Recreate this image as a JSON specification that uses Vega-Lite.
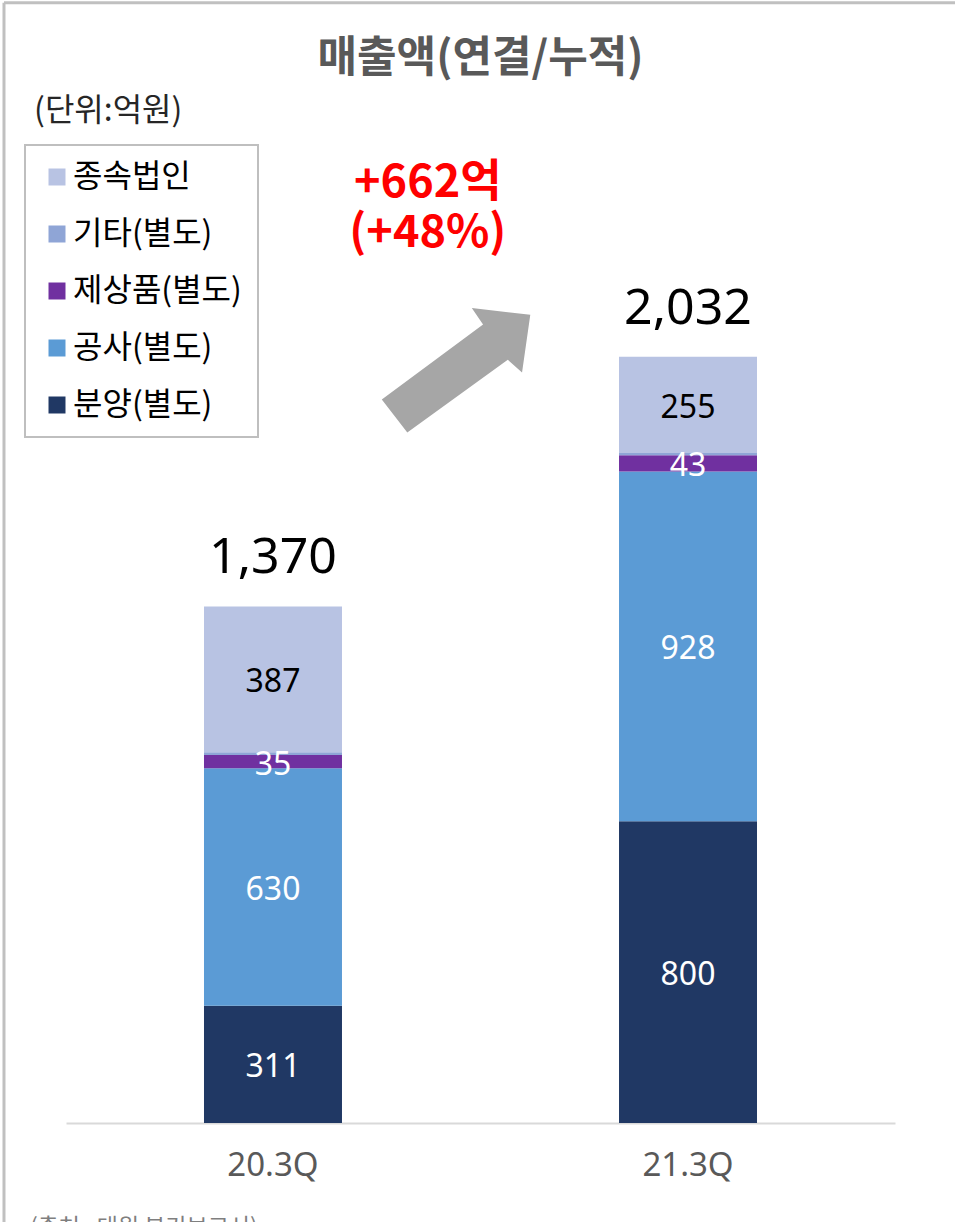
{
  "$schema": "https://vega.github.io/schema/vega-lite/v6.json",
  "autosize": "none",
  "width": 829,
  "height": 905,
  "padding": {"left": 66, "top": 218, "right": 60, "bottom": 99},
  "background": "white",
  "config": {
    "view": {"stroke": null},
    "font": "Noto Sans, Noto Sans CJK KR",
    "legend": {
      "orient": "none",
      "legendX": -41,
      "legendY": -73,
      "strokeColor": "#bfbfbf",
      "strokeWidth": 2,
      "fillColor": "white",
      "padding": 16,
      "labelFontSize": 32,
      "labelFont": "Noto Sans CJK KR",
      "labelColor": "#000000",
      "symbolType": "square",
      "symbolSize": 289,
      "symbolStrokeWidth": 0,
      "rowPadding": 25,
      "labelOffset": 0,
      "labelLimit": 400
    }
  },
  "title": {
    "text": "매출액(연결/누적)",
    "font": "Noto Sans CJK KR",
    "fontSize": 43,
    "fontWeight": "bold",
    "color": "#595959",
    "anchor": "middle",
    "frame": "group",
    "baseline": "bottom",
    "offset": -123
  },
  "datasets": {
    "segments": [
      {"q": "20.3Q", "seg": "분양(별도)", "ord": 1, "value": 311},
      {"q": "20.3Q", "seg": "공사(별도)", "ord": 2, "value": 630},
      {"q": "20.3Q", "seg": "제상품(별도)", "ord": 3, "value": 35},
      {"q": "20.3Q", "seg": "기타(별도)", "ord": 4, "value": 7},
      {"q": "20.3Q", "seg": "종속법인", "ord": 5, "value": 387},
      {"q": "21.3Q", "seg": "분양(별도)", "ord": 1, "value": 800},
      {"q": "21.3Q", "seg": "공사(별도)", "ord": 2, "value": 928},
      {"q": "21.3Q", "seg": "제상품(별도)", "ord": 3, "value": 43},
      {"q": "21.3Q", "seg": "기타(별도)", "ord": 4, "value": 6},
      {"q": "21.3Q", "seg": "종속법인", "ord": 5, "value": 255}
    ],
    "totals": [
      {"q": "20.3Q", "total": 1370},
      {"q": "21.3Q", "total": 2032}
    ],
    "change": [
      {"xv": 0.873, "yv": 2493, "t": "+662억"},
      {"xv": 0.873, "yv": 2361, "t": "(+48%)"}
    ],
    "unit": [{"xv": -0.077, "yv": 2684, "t": "(단위:억원)"}],
    "source": [{"xv": -0.087, "yv": -250, "t": "(출처 : 대원 분기보고서)"}],
    "arrow": [{"xv": 0.941, "yv": 1996}],
    "frameTop": [{"xv": -0.1496, "xv2": 2.2, "yv": 2971}],
    "frameLeft": [{"xv": -0.1496, "yv": 2971, "yv2": -400}]
  },
  "resolve": {"scale": {"x": "independent"}},
  "layer": [
    {
      "encoding": {
        "x": {
          "field": "q",
          "type": "nominal",
          "scale": {"paddingInner": 0.6675, "paddingOuter": 0.3325},
          "axis": {
            "title": null,
            "labelAngle": 0,
            "labelFontSize": 33,
            "labelColor": "#595959",
            "labelFont": "Noto Sans",
            "labelPadding": 42,
            "labelBaseline": "middle",
            "ticks": false,
            "domainColor": "#d9d9d9",
            "domainWidth": 2,
            "grid": false
          }
        }
      },
      "layer": [
        {
          "data": {"name": "segments"},
          "mark": {"type": "bar"},
          "encoding": {
            "y": {
              "field": "value",
              "type": "quantitative",
              "stack": "zero",
              "scale": {"domain": [0, 2400]},
              "axis": null
            },
            "order": {"field": "ord", "type": "quantitative"},
            "color": {
              "field": "seg",
              "type": "nominal",
              "title": null,
              "scale": {
                "domain": ["종속법인", "기타(별도)", "제상품(별도)", "공사(별도)", "분양(별도)"],
                "range": ["#b8c3e3", "#8fa5d6", "#7030a0", "#5b9bd5", "#203864"]
              }
            }
          }
        },
        {
          "data": {"name": "segments"},
          "transform": [
            {"stack": "value", "groupby": ["q"], "sort": [{"field": "ord"}], "as": ["v0", "v1"]},
            {"calculate": "(datum.v0 + datum.v1) / 2", "as": "mid"},
            {"filter": "datum.seg != '기타(별도)'"}
          ],
          "mark": {"type": "text", "fontSize": 32, "baseline": "middle", "align": "center", "dy": 3, "font": "Noto Sans"},
          "encoding": {
            "y": {"field": "mid", "type": "quantitative"},
            "text": {"field": "value", "type": "quantitative"},
            "color": {
              "condition": {"test": "datum.seg == '종속법인'", "value": "#000000"},
              "value": "#ffffff"
            }
          }
        },
        {
          "data": {"name": "totals"},
          "mark": {"type": "text", "fontSize": 50, "baseline": "middle", "align": "center", "dy": -48, "color": "#000000", "font": "Noto Sans"},
          "encoding": {
            "y": {"field": "total", "type": "quantitative"},
            "text": {"field": "total", "type": "quantitative", "format": ","}
          }
        }
      ]
    },
    {
      "data": {"name": "change"},
      "mark": {"type": "text", "fontSize": 45, "fontWeight": "bold", "color": "#ff0000", "align": "center", "baseline": "middle", "font": "Noto Sans CJK KR"},
      "encoding": {
        "x": {"field": "xv", "type": "quantitative", "scale": {"domain": [0, 2]}, "axis": null},
        "y": {"field": "yv", "type": "quantitative"},
        "text": {"field": "t"}
      }
    },
    {
      "data": {"name": "unit"},
      "mark": {"type": "text", "fontSize": 32, "color": "#262626", "align": "left", "baseline": "middle", "font": "Noto Sans CJK KR"},
      "encoding": {
        "x": {"field": "xv", "type": "quantitative", "scale": {"domain": [0, 2]}, "axis": null},
        "y": {"field": "yv", "type": "quantitative"},
        "text": {"field": "t"}
      }
    },
    {
      "data": {"name": "source"},
      "mark": {"type": "text", "fontSize": 23, "color": "#7f7f7f", "align": "left", "baseline": "top", "font": "Noto Sans CJK KR"},
      "encoding": {
        "x": {"field": "xv", "type": "quantitative", "scale": {"domain": [0, 2]}, "axis": null},
        "y": {"field": "yv", "type": "quantitative"},
        "text": {"field": "t"}
      }
    },
    {
      "data": {"name": "arrow"},
      "mark": {
        "type": "point",
        "filled": true,
        "color": "#a6a6a6",
        "opacity": 1,
        "size": 22500,
        "shape": "M-0.99,0.39L0.36,-0.61L0.21,-0.83L0.99,-0.74L0.88,0.03L0.69,-0.14L-0.65,0.83Z"
      },
      "encoding": {
        "x": {"field": "xv", "type": "quantitative", "scale": {"domain": [0, 2]}, "axis": null},
        "y": {"field": "yv", "type": "quantitative"}
      }
    },
    {
      "data": {"name": "frameTop"},
      "mark": {"type": "rule", "color": "#c0c0c0", "strokeWidth": 3},
      "encoding": {
        "x": {"field": "xv", "type": "quantitative", "scale": {"domain": [0, 2]}, "axis": null},
        "x2": {"field": "xv2"},
        "y": {"field": "yv", "type": "quantitative"}
      }
    },
    {
      "data": {"name": "frameLeft"},
      "mark": {"type": "rule", "color": "#c0c0c0", "strokeWidth": 3},
      "encoding": {
        "x": {"field": "xv", "type": "quantitative", "scale": {"domain": [0, 2]}, "axis": null},
        "y": {"field": "yv", "type": "quantitative"},
        "y2": {"field": "yv2"}
      }
    }
  ]
}
